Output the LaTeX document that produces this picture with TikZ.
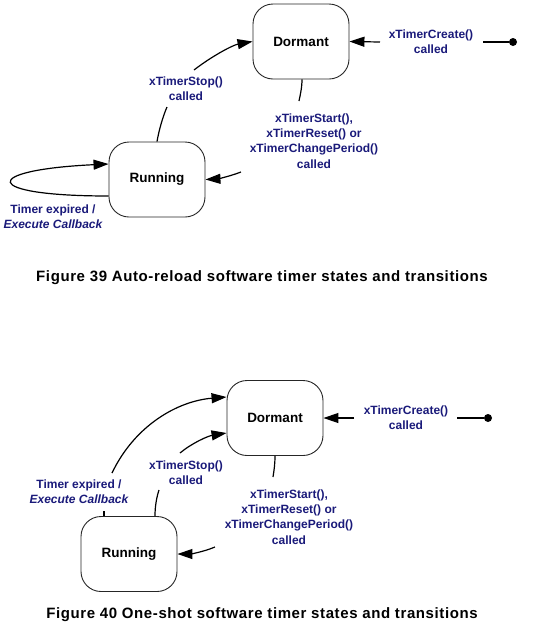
\documentclass[tikz,border=0pt]{standalone}
\usepackage{fontspec}
\setmainfont{Liberation Sans}
\newfontfamily\capfont[LetterSpace=4]{Liberation Sans}
\usetikzlibrary{arrows.meta,calc}
\definecolor{lblue}{RGB}{26,26,122}
\begin{document}
\begin{tikzpicture}[x=1pt,y=-1pt,
 state/.style={draw=black!85,line width=0.9pt,rounded corners=20pt,minimum width=96pt,minimum height=75pt,font=\fontsize{13.5}{16}\selectfont\bfseries},
 lbl/.style={text=lblue,align=center,font=\fontsize{12}{15.3}\selectfont\bfseries,inner sep=0pt},
 conn/.style={line width=1.2pt},
 arr/.style={conn,-{Triangle[length=15pt,width=10pt]}},
 caption/.style={font=\capfont\fontsize{15}{18}\selectfont\bfseries,inner sep=0pt},
 dot/.style={circle,fill=black,inner sep=0pt,minimum size=8pt}]
\useasboundingbox (0,0) rectangle (540,630);

% ---------- Figure 39 ----------
\node[state] (dormA) at (301,41.5) {Dormant};
\node[state] (runA) at (157,179.5) {Running};
\node[dot] (startA) at (513,42) {};

\node[lbl] (createA) at (431,41.5) {xTimerCreate()\\called};
\coordinate (cA1) at (483,42);
\coordinate (cA2) at (380,42);
\draw[conn] (startA) -- (cA1);
\draw[arr] (cA2) -- (dormA.east);

\node[lbl] (stopA) at (186,89) {xTimerStop()\\called};
\coordinate (sA1) at (167,107);
\coordinate (sA2) at (194,70);
\draw[conn] (runA.north) .. controls (159,130) and (163,116) .. (sA1);
\draw[arr] (sA2) .. controls (212,56) and (233,45) .. (dormA.west);

\node[lbl] (startlA) at (314,141) {xTimerStart(),\\xTimerReset() or\\xTimerChangePeriod()\\called};
\coordinate (tA1) at (299,101);
\coordinate (tA2) at (241,172);
\draw[conn] ([xshift=1pt]dormA.south) .. controls (302,88) and (300,96) .. (tA1);
\draw[arr] (tA2) .. controls (228,177) and (216,179) .. (runA.east);

\node[lbl] (expA) at (53,216.5) {Timer expired /\\\itshape Execute Callback};
\draw[arr] ([yshift=-16.5pt]runA.west) .. controls (-20,196) and (-20,170) .. ([yshift=15.5pt]runA.west);

\node[caption] (capA) at (262,278) {Figure 39 Auto-reload software timer states and transitions};

% ---------- Figure 40 ----------
\node[state] (dormB) at (275,418) {Dormant};
\node[state] (runB) at (129,554) {Running};
\node[dot] (startB) at (488,418) {};

\node[lbl] (createB) at (406,417.5) {xTimerCreate()\\called};
\coordinate (cB1) at (457,418);
\coordinate (cB2) at (354,418);
\draw[conn] (startB) -- (cB1);
\draw[arr] (cB2) -- (dormB.east);

\node[lbl] (expB) at (79,492) {Timer expired /\\\itshape Execute Callback};
\coordinate (eB1) at (104,511);
\coordinate (eB2) at (112,473);
\draw[conn] ([xshift=-25pt]runB.north) -- (eB1);
\draw[arr] (eB2) .. controls (135,425) and (178,401) .. ([yshift=21pt]dormB.west);

\node[lbl] (stopB) at (186,472.5) {xTimerStop()\\called};
\coordinate (sB1) at (159,490);
\coordinate (sB2) at (180,453);
\draw[conn] ([xshift=26pt]runB.north) .. controls (155,505) and (157,496) .. (sB1);
\draw[arr] (sB2) .. controls (192,443) and (208,436) .. ([yshift=-15pt]dormB.west);

\node[lbl] (startlB) at (289,517) {xTimerStart(),\\xTimerReset() or\\xTimerChangePeriod()\\called};
\coordinate (tB1) at (273,477);
\coordinate (tB2) at (215,547);
\draw[conn] (dormB.south) .. controls (275,464) and (274,471) .. (tB1);
\draw[arr] (tB2) .. controls (203,552) and (190,554) .. (runB.east);

\node[caption] (capB) at (262,615) {Figure 40 One-shot software timer states and transitions};
\end{tikzpicture}
\end{document}
